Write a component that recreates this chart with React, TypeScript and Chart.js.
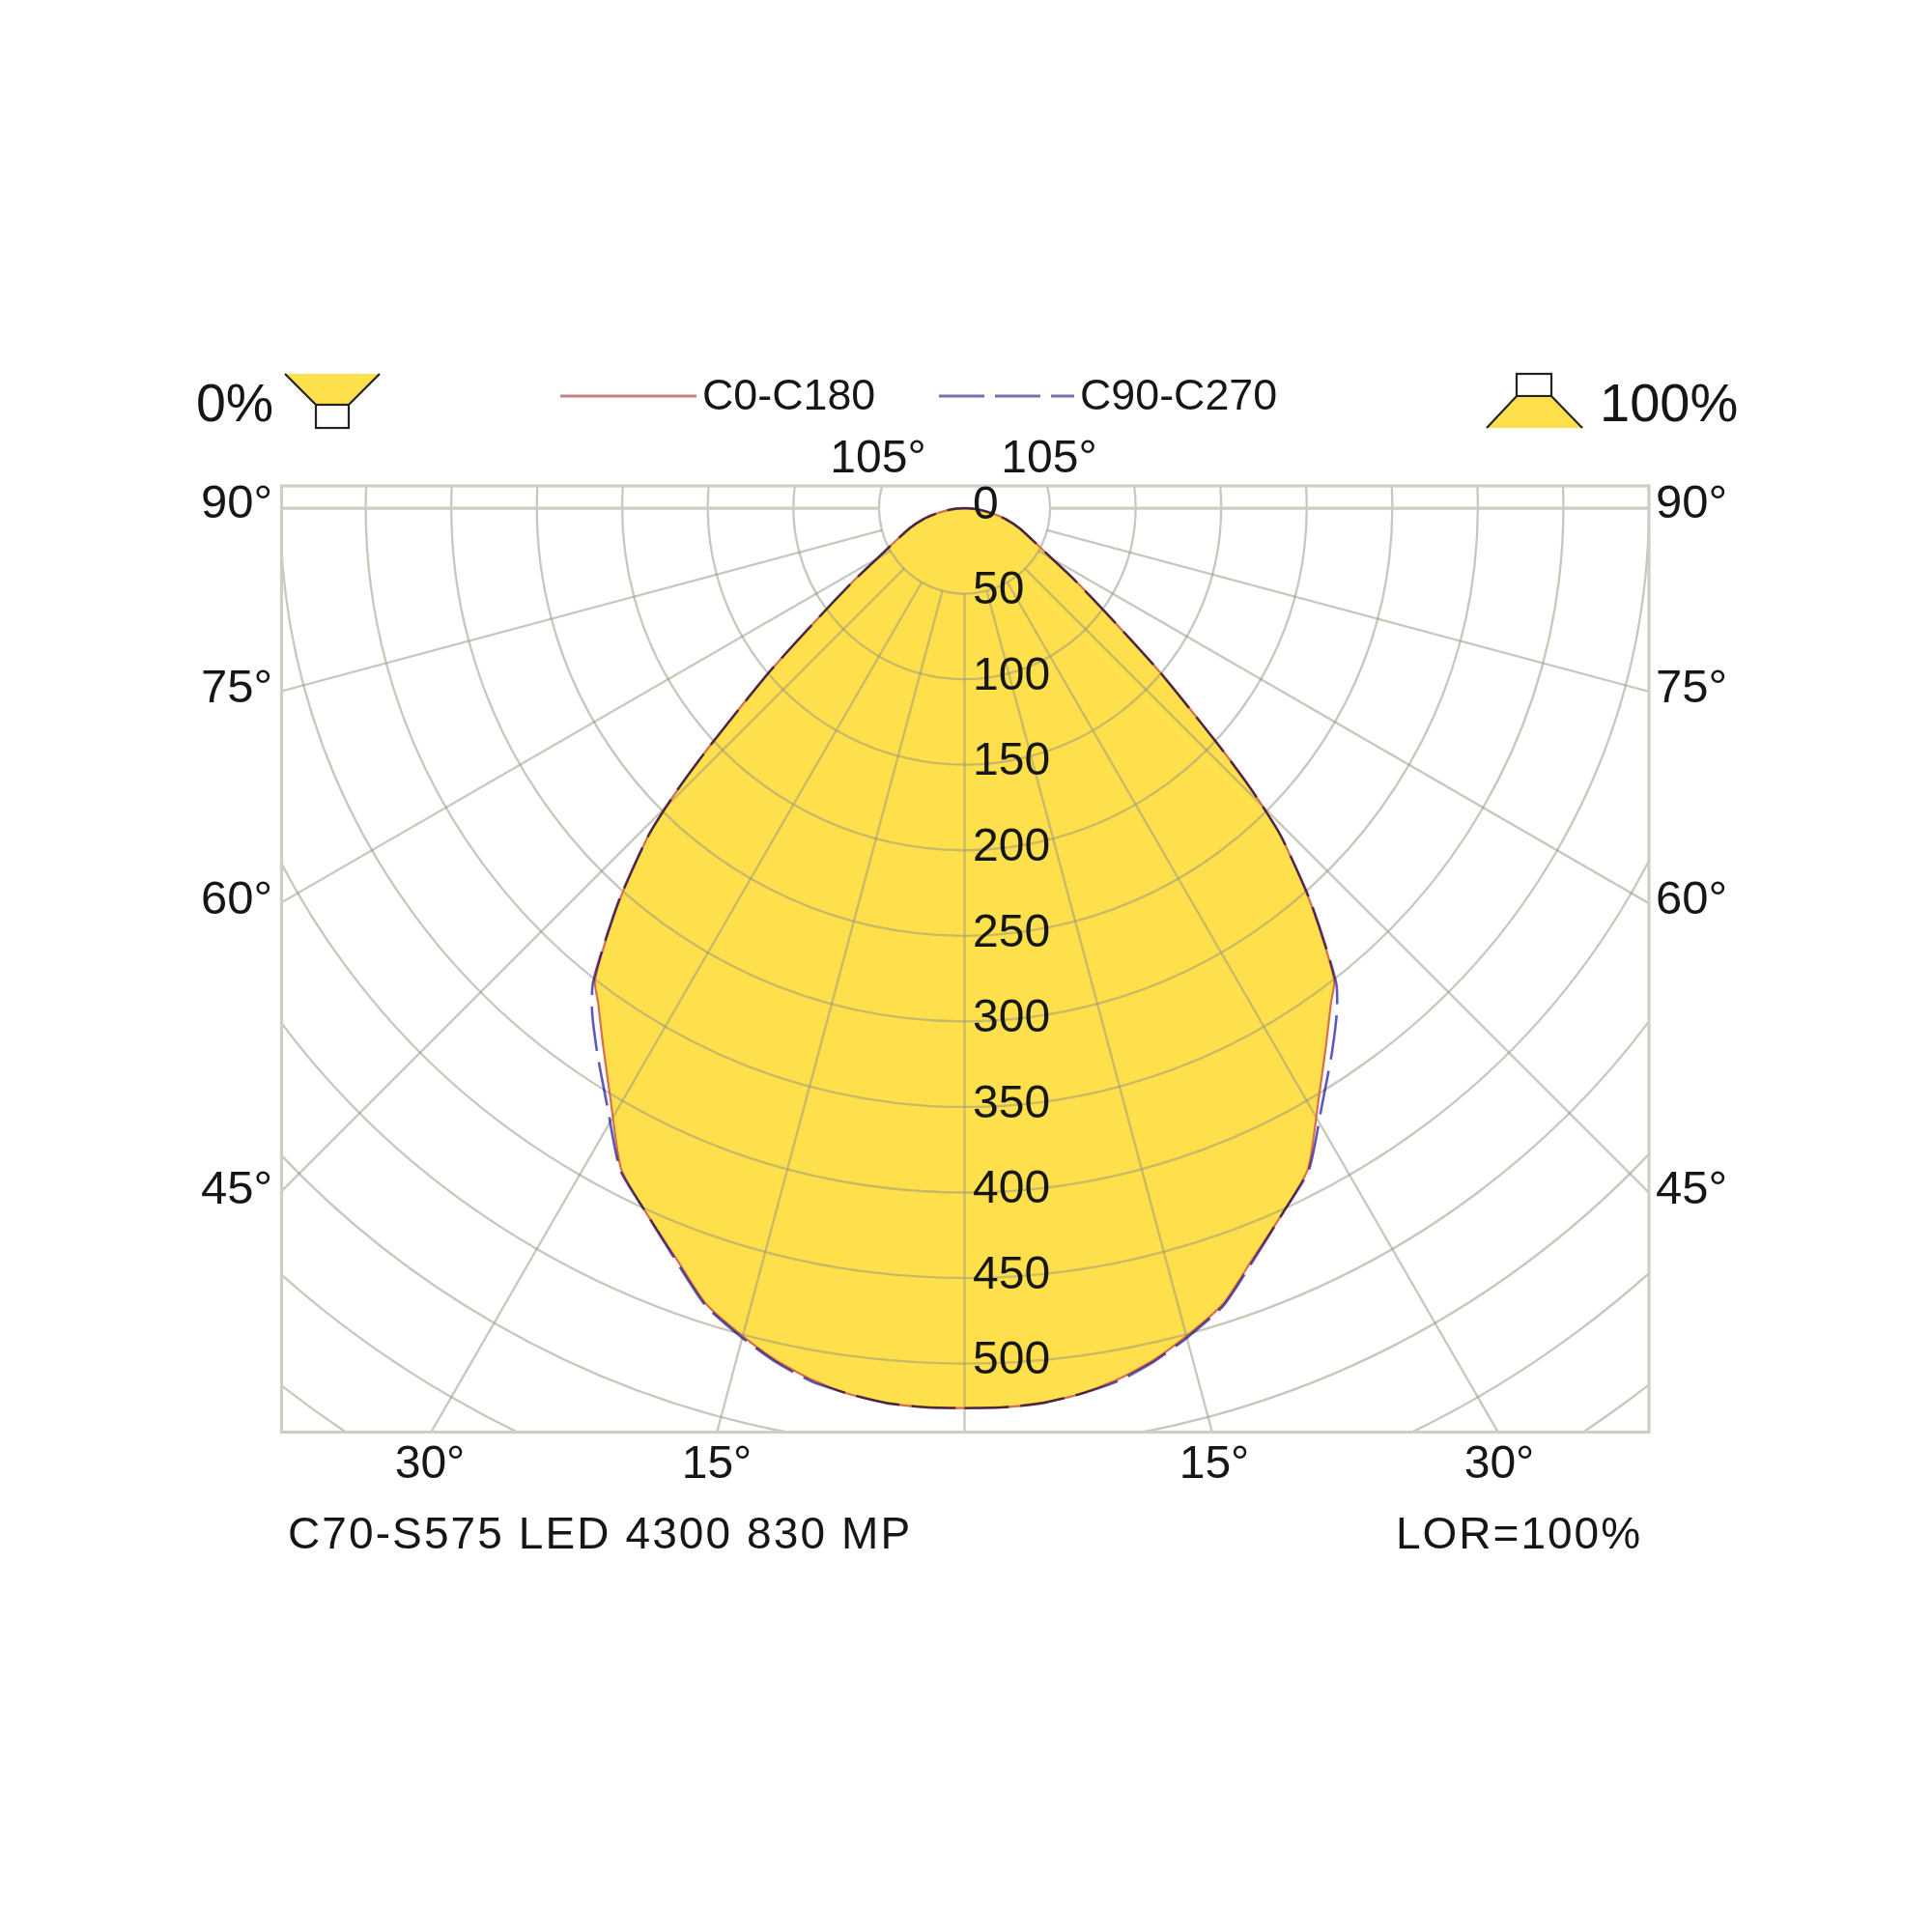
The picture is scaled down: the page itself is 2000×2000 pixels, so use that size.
import React, { useEffect, useRef } from "react";
import { Chart, registerables } from "chart.js";

Chart.register(...registerables);

// Luminous intensity (cd/klm), by angle from the nadir.
const angles = [0, 2.5, 5, 7.5, 10, 12.5, 15, 18, 21, 24.5, 27.5, 31, 34, 36.5, 38, 39.5, 41.5, 44, 45.5, 47, 50, 53, 57, 60, 64, 70, 75, 79, 83, 87, 90];
const c0c180 = [526, 526, 525, 522, 517, 510, 501, 489, 470, 451, 435, 402, 378, 360, 351, 331, 303, 266, 236, 203, 149, 108, 76, 59, 46, 34, 25, 17, 10, 4, 0];
const c90c270 = [526, 526, 525, 522, 518, 511, 502, 490, 471, 451, 436, 406, 384, 366, 353, 332, 304, 266, 236, 203, 149, 108, 76, 59, 46, 34, 25, 17, 10, 4, 0];

const radialLabels = [0, 50, 100, 150, 200, 250, 300, 350, 400, 450, 500];
const gridRadii = [50, 100, 150, 200, 250, 300, 350, 400, 450, 500, 550, 600, 650];
const spokeAngles = [0, 15, 30, 45, 60, 75];
const sideLabels = ["90°", "75°", "60°", "45°"];
const bottomLabels = ["30°", "15°", "15°", "30°"];
const topLabel = "105°";
const legendLabels = ["C0-C180", "C90-C270"];
const title = "C70-S575 LED 4300 830 MP";
const lorLabel = "LOR=100%";
const percentLabels = ["0%", "100%"];

const FONT = '"Liberation Sans", Arial, sans-serif';
const INK = "#161616";
const GRID = "rgba(150,148,128,0.52)";
const FRAME = "#CFCDC4";
const YELLOW = "#FEE04C";

const rad = (d: number) => (d * Math.PI) / 180;
const outline = (vals: number[]) => {
  const right = angles.map((a, i) => ({ x: vals[i] * Math.sin(rad(a)), y: -vals[i] * Math.cos(rad(a)) }));
  const left = angles.map((a, i) => ({ x: -vals[i] * Math.sin(rad(a)), y: -vals[i] * Math.cos(rad(a)) })).reverse();
  return [...right, ...left];
};

const text = (ctx: any, s: string, x: number, y: number, size: number, align: CanvasTextAlign = "left", spacing = 0) => {
  ctx.font = `${size}px ${FONT}`;
  ctx.fillStyle = INK;
  ctx.textAlign = align;
  ctx.textBaseline = "middle";
  ctx.letterSpacing = `${spacing}px`;
  ctx.fillText(s, x, y);
  ctx.letterSpacing = "0px";
};

const polarPlugin = {
  id: "polarPlugin",
  beforeDatasetDraw(chart: any, args: any) {
    if (args.index === 2) chart.ctx.globalCompositeOperation = "multiply";
  },
  afterDatasetDraw(chart: any, args: any) {
    const ctx = chart.ctx;
    if (args.index === 2) ctx.globalCompositeOperation = "source-over";
    if (args.index !== 0) return;
    const { x: xs, y: ys } = chart.scales;
    const a = chart.chartArea;
    const cx = xs.getPixelForValue(0);
    const cy = ys.getPixelForValue(0);
    const unit = (xs.getPixelForValue(100) - cx) / 100;
    ctx.save();
    ctx.beginPath();
    ctx.rect(a.left, a.top, a.right - a.left, a.bottom - a.top);
    ctx.clip();
    ctx.strokeStyle = GRID;
    ctx.lineWidth = 2.3;
    gridRadii.forEach((r) => {
      ctx.beginPath();
      ctx.arc(cx, cy, r * unit, rad(90 - 105), rad(90 + 105));
      ctx.stroke();
    });
    const r0 = 50 * unit;
    const r1 = 1200 * unit;
    spokeAngles.forEach((d) => {
      [-1, 1].forEach((sgn) => {
        if (d === 0 && sgn < 0) return;
        const sx = Math.sin(rad(d)) * sgn;
        const sy = Math.cos(rad(d));
        ctx.beginPath();
        ctx.moveTo(cx + sx * r0, cy + sy * r0);
        ctx.lineTo(cx + sx * r1, cy + sy * r1);
        ctx.stroke();
      });
    });
    ctx.lineWidth = 3.2;
    ctx.strokeStyle = FRAME;
    [-1, 1].forEach((sgn) => {
      ctx.beginPath();
      ctx.moveTo(cx + sgn * r0, cy);
      ctx.lineTo(cx + sgn * r1, cy);
      ctx.stroke();
    });
    ctx.restore();
  },
  afterDraw(chart: any) {
    const ctx = chart.ctx;
    const { x: xs, y: ys } = chart.scales;
    const a = chart.chartArea;
    ctx.save();
    // frame
    ctx.strokeStyle = FRAME;
    ctx.lineWidth = 3.2;
    ctx.strokeRect(a.left, a.top, a.right - a.left, a.bottom - a.top);

    // radial tick labels
    radialLabels.forEach((v) => text(ctx, String(v), 1007, ys.getPixelForValue(-v) - 2.5, 48));

    // angle labels
    const sideY = [522.5, 713.5, 932.5, 1232.5];
    sideLabels.forEach((s, i) => {
      text(ctx, s, 282, sideY[i], 49, "right");
      text(ctx, s, 1714, sideY[i], 49, "left");
    });
    const bottomX = [445, 742, 1257, 1552];
    bottomLabels.forEach((s, i) => text(ctx, s, bottomX[i], 1516.5, 48, "center"));
    text(ctx, topLabel, 909, 475.5, 48, "center");
    text(ctx, topLabel, 1086, 475.5, 48, "center");

    // bottom captions
    text(ctx, title, 298, 1590.5, 46, "left", 2.1);
    text(ctx, lorLabel, 1445, 1590.5, 46, "left", 2);

    // legend
    ctx.lineWidth = 3.2;
    ctx.strokeStyle = "#C4817F";
    ctx.beginPath();
    ctx.moveTo(580, 410);
    ctx.lineTo(721, 410);
    ctx.stroke();
    ctx.strokeStyle = "#7373AC";
    ctx.setLineDash([47, 11]);
    ctx.beginPath();
    ctx.moveTo(972, 410);
    ctx.lineTo(1112, 410);
    ctx.stroke();
    ctx.setLineDash([]);
    text(ctx, legendLabels[0], 727, 411.5, 44.8);
    text(ctx, legendLabels[1], 1118, 411.5, 44.8);

    // percent labels
    text(ctx, percentLabels[0], 203, 421, 55.5);
    text(ctx, percentLabels[1], 1656, 421, 56);

    // luminaire icons
    ctx.lineWidth = 2.2;
    ctx.strokeStyle = "#222";
    ctx.fillStyle = YELLOW;
    ctx.beginPath();
    ctx.moveTo(295, 387);
    ctx.lineTo(393, 387);
    ctx.lineTo(361, 419);
    ctx.lineTo(327, 419);
    ctx.closePath();
    ctx.fill();
    ctx.beginPath();
    ctx.moveTo(295, 387);
    ctx.lineTo(327, 419);
    ctx.lineTo(361, 419);
    ctx.lineTo(393, 387);
    ctx.stroke();
    ctx.strokeRect(327, 419, 34, 24);

    ctx.strokeRect(1570, 387, 36, 23);
    ctx.beginPath();
    ctx.moveTo(1570, 410);
    ctx.lineTo(1606, 410);
    ctx.lineTo(1638, 443);
    ctx.lineTo(1539, 443);
    ctx.closePath();
    ctx.fill();
    ctx.beginPath();
    ctx.moveTo(1539, 443);
    ctx.lineTo(1570, 410);
    ctx.lineTo(1606, 410);
    ctx.lineTo(1638, 443);
    ctx.stroke();
    ctx.restore();
  },
};

export default function App() {
  const ref = useRef<HTMLCanvasElement>(null);
  useEffect(() => {
    const chart = new Chart(ref.current as HTMLCanvasElement, {
      type: "scatter",
      data: {
        datasets: [
          { label: "fill", data: outline(c0c180), showLine: true, fill: "shape", backgroundColor: YELLOW, borderWidth: 0, pointRadius: 0, tension: 0.2, order: 3 },
          { label: legendLabels[0], data: outline(c0c180), showLine: true, borderColor: "rgb(214,110,80)", borderWidth: 2.2, pointRadius: 0, tension: 0.2, order: 2 },
          { label: legendLabels[1], data: outline(c90c270), showLine: true, borderColor: "rgb(92,88,190)", borderWidth: 2.6, borderDash: [46, 12], pointRadius: 0, tension: 0.2, order: 1 },
        ] as any,
      },
      plugins: [polarPlugin as any],
      options: {
        animation: false,
        responsive: false,
        devicePixelRatio: 1,
        layout: { padding: { left: 291.5, right: 293, top: 503, bottom: 517.5 } },
        plugins: { legend: { display: false }, tooltip: { enabled: false } },
        scales: {
          x: { type: "linear", display: false, min: -399.2, max: 400.05 },
          y: { type: "linear", display: false, min: -540, max: 13 },
        },
      } as any,
    });
    return () => chart.destroy();
  }, []);
  return (
    <div style={{ position: "fixed", left: 0, top: 0, width: 2000, height: 2000, background: "#fff" }}>
      <canvas ref={ref} width={2000} height={2000} style={{ display: "block", width: 2000, height: 2000 }} />
    </div>
  );
}
